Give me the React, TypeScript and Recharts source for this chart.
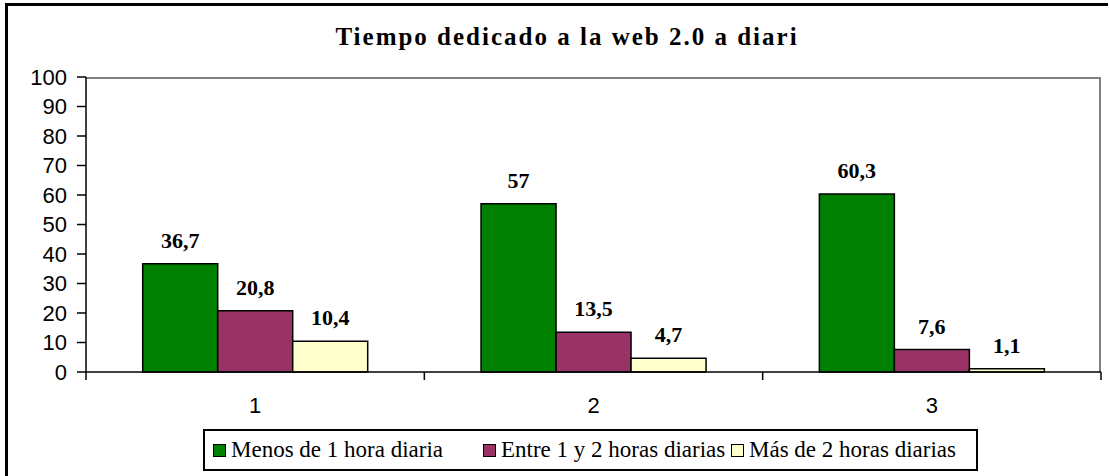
import { Bar, BarChart, LabelList, XAxis, YAxis } from "recharts";

const categories = ["1", "2", "3"];
const menos = [36.7, 57, 60.3];
const entre = [20.8, 13.5, 7.6];
const mas = [10.4, 4.7, 1.1];
const yTicks = [0, 10, 20, 30, 40, 50, 60, 70, 80, 90, 100];

const series = [
  { key: "menos", name: "Menos de 1 hora diaria", color: "#008000" },
  { key: "entre", name: "Entre 1 y 2 horas diarias", color: "#993366" },
  { key: "mas", name: "Más de 2 horas diarias", color: "#FFFFCC" },
];
// legend slot widths
const legendSlots = [270, 248, 235];

const W = 1109;
const H = 476;
const PLOT_LEFT = 86;
const PLOT_RIGHT = 1101;
const BAND = (PLOT_RIGHT - PLOT_LEFT) / categories.length;

const data = categories.map((c, i) => ({ cat: c, menos: menos[i], entre: entre[i], mas: mas[i] }));

const serif = "'Liberation Serif', 'Times New Roman', serif";
const sans = "'Liberation Sans', Arial, sans-serif";

const fmt = (v: number) => String(v).replace(".", ",");

function CatTick(props: any) {
  const { x, y, payload, index } = props;
  const last = index === categories.length - 1;
  return (
    <g>
      <line x1={x - BAND / 2} x2={x - BAND / 2} y1={y} y2={y + 8} stroke="#000" strokeWidth={1.5} />
      {last && <line x1={x + BAND / 2} x2={x + BAND / 2} y1={y} y2={y + 8} stroke="#000" strokeWidth={1.5} />}
      <text x={x} y={y + 41} textAnchor="middle" fontFamily={sans} fontSize={22} fill="#000">
        {payload.value}
      </text>
    </g>
  );
}

function LegendBox() {
  return (
    <div
      style={{
        position: "absolute",
        left: 203,
        top: 429,
        boxSizing: "border-box",
        width: 775,
        height: 42,
        border: "2px solid #000",
        background: "#fff",
        display: "flex",
        alignItems: "center",
        paddingLeft: 8,
        fontFamily: serif,
        fontSize: 23,
        color: "#000",
        whiteSpace: "nowrap",
      }}
    >
      {series.map((s, i) => (
        <span key={s.key} style={{ display: "flex", alignItems: "center", width: legendSlots[i] }}>
          <span
            style={{
              display: "inline-block",
              width: 11,
              height: 11,
              background: s.color,
              border: "1.5px solid #000",
              marginRight: 5,
            }}
          />
          {s.name}
        </span>
      ))}
    </div>
  );
}

const labelStyle = { fontFamily: serif, fontWeight: "bold", fontSize: 22, fill: "#000" };

export default function App() {
  return (
    <div style={{ position: "absolute", left: 0, top: 0, width: W, height: H, background: "#fff" }}>
      <div
        style={{
          position: "absolute",
          left: 5,
          top: 3,
          width: 1100,
          height: 480,
          borderLeft: "3px solid #000",
          borderTop: "3px solid #000",
        }}
      />
      <div
        style={{
          position: "absolute",
          left: 0,
          width: W,
          top: 22,
          textAlign: "center",
          paddingLeft: 25,
          boxSizing: "border-box",
          fontFamily: serif,
          fontWeight: "bold",
          fontSize: 25,
          letterSpacing: 2,
          lineHeight: "30px",
        }}
      >
        Tiempo dedicado a la web 2.0 a diari
      </div>
      <div
        style={{
          position: "absolute",
          left: PLOT_LEFT,
          top: 77,
          width: PLOT_RIGHT - PLOT_LEFT,
          height: 295,
          boxSizing: "border-box",
          borderTop: "2px solid #808080",
          borderRight: "2px solid #808080",
        }}
      />
      <BarChart
        width={W}
        height={H}
        data={data}
        margin={{ top: 77, right: W - PLOT_RIGHT, bottom: 54, left: 0 }}
        barCategoryGap="16.76%"
        barGap={0}
        style={{ position: "absolute", left: 0, top: 0 }}
      >
        <XAxis
          dataKey="cat"
          height={50}
          tickSize={0}
          tickMargin={0}
          tick={<CatTick />}
          axisLine={{ stroke: "#000", strokeWidth: 1.5 }}
          interval={0}
        />
        <YAxis
          width={PLOT_LEFT}
          domain={[0, 100]}
          ticks={yTicks}
          interval={0}
          tickSize={9}
          tickMargin={10}
          axisLine={{ stroke: "#000", strokeWidth: 1.5 }}
          tickLine={{ stroke: "#000", strokeWidth: 1.5 }}
          tick={{ fill: "#000", fontFamily: sans, fontSize: 22 }}
        />
        {series.map((s) => (
          <Bar
            key={s.key}
            dataKey={s.key}
            name={s.name}
            fill={s.color}
            stroke="#000"
            strokeWidth={1.5}
            isAnimationActive={false}
          >
            <LabelList dataKey={s.key} position="top" offset={16} formatter={fmt} style={labelStyle} />
          </Bar>
        ))}
      </BarChart>
      <LegendBox />
    </div>
  );
}
